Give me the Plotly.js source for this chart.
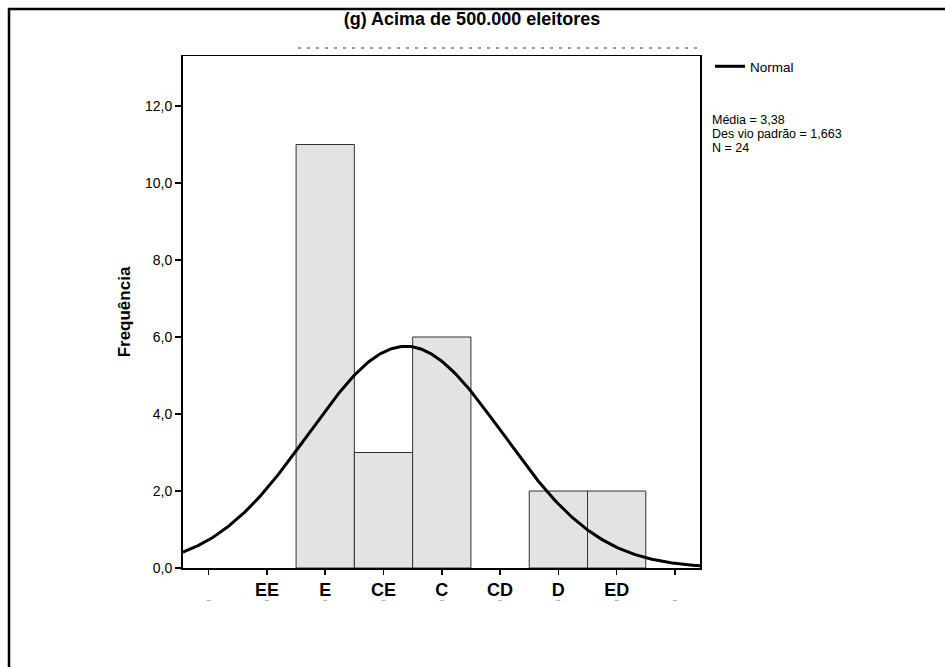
<!DOCTYPE html>
<html>
<head>
<meta charset="utf-8">
<script src="https://cdn.plot.ly/plotly-3.0.1.min.js"></script>
<style>
  html, body { margin: 0; padding: 0; background: #fff; }
  #chart { width: 945px; height: 667px; }
</style>
</head>
<body>
<div id="chart"></div>
<script>
// ---- data ----
const categories = ['EE', 'E', 'CE', 'C', 'CD', 'D', 'ED'];   // positions 1..7
const frequencies = [0, 11, 3, 6, 0, 2, 2];
const tickLabels = ['', 'EE', 'E', 'CE', 'C', 'CD', 'D', 'ED', ''];
const media = 3.38;
const desvioPadrao = 1.663;
const nObs = 24;
const statsLines = ['Média = 3,38', 'Des vio padrão = 1,663', 'N = 24'];

// ---- geometry helpers (plot area in pixels) ----
const W = 945, H = 667;
const L = 183, R = 700, T = 56, B = 568;
const px2x = p => (p - L) / (R - L);
const py2y = p => (B - p) / (B - T);
const xRange = [-0.44, 8.43];

// bars
const barX = [], barY = [];
categories.forEach((c, i) => { if (frequencies[i] > 0) { barX.push(i + 1); barY.push(frequencies[i]); } });

// normal curve from the stated mean, sd and N (bin width 1)
const curveX = [], curveY = [];
const steps = 300;
for (let k = 0; k <= steps; k++) {
  const x = xRange[0] + (xRange[1] - xRange[0]) * k / steps;
  const z = (x - media) / desvioPadrao;
  curveX.push(x);
  curveY.push(nObs * Math.exp(-0.5 * z * z) / (desvioPadrao * Math.sqrt(2 * Math.PI)));
}

const FONT = 'Liberation Sans, Arial, sans-serif';

const traces = [
  {
    type: 'bar', x: barX, y: barY, width: 1,
    marker: { color: '#e3e3e3', line: { color: '#333333', width: 1 } },
    showlegend: false, hoverinfo: 'x+y'
  },
  {
    type: 'scatter', mode: 'lines', x: curveX, y: curveY, name: 'Normal',
    line: { color: '#000000', width: 3 }, showlegend: true
  }
];

const annotations = statsLines.map((t, i) => ({
  text: t, xref: 'paper', yref: 'paper', x: px2x(711), y: py2y(120 + i * 14),
  xanchor: 'left', yanchor: 'middle', showarrow: false, borderpad: 0,
  font: { family: FONT, size: 12.5, color: '#000' }
}));

const shapes = [
  // outer frame (top and left edges)
  { type: 'line', xref: 'paper', yref: 'paper', x0: px2x(8), x1: px2x(960), y0: py2y(9), y1: py2y(9),
    line: { color: '#000', width: 2.5 } },
  { type: 'line', xref: 'paper', yref: 'paper', x0: px2x(9), x1: px2x(9), y0: py2y(8), y1: py2y(680),
    line: { color: '#000', width: 2.5 } },
  // faint clipped subtitle remnant above the plot
  { type: 'line', xref: 'paper', yref: 'paper', x0: px2x(298), x1: px2x(702), y0: py2y(48), y1: py2y(48),
    line: { color: '#7a7a7a', width: 1.5, dash: '3px,6px' } }
];
// faint remnants below the tick labels, one per tick
tickLabels.forEach((t, i) => {
  shapes.push({ type: 'line', xref: 'x', yref: 'paper', x0: i - 0.035, x1: i + 0.035,
    y0: py2y(600.5), y1: py2y(600.5), line: { color: '#b5b5b5', width: 1 } });
});

const layout = {
  width: W, height: H,
  margin: { l: L, r: W - R, t: T, b: H - B, pad: 0 },
  paper_bgcolor: '#fff', plot_bgcolor: '#fff',
  separators: ',.',
  bargap: 0,
  font: { family: FONT, color: '#000' },
  title: {
    text: '(g) Acima de 500.000 eleitores',
    xref: 'container', x: 472 / W, xanchor: 'center',
    yref: 'container', y: 1 - 18.5 / H, yanchor: 'middle',
    font: { family: FONT, size: 18, weight: 'bold', color: '#000' }
  },
  xaxis: {
    range: xRange, autorange: false,
    tickmode: 'array', tickvals: tickLabels.map((t, i) => i), ticktext: tickLabels,
    ticks: 'outside', ticklen: 5, tickwidth: 1.5, tickcolor: '#000',
    tickfont: { family: FONT, size: 18, weight: 'bold', color: '#000' },
    showline: true, linecolor: '#000', linewidth: 1.5, mirror: true,
    showgrid: false, zeroline: false, fixedrange: true
  },
  yaxis: {
    range: [0, (B - T) / ((B - 106) / 12)], autorange: false,
    tickmode: 'linear', tick0: 0, dtick: 2, tickformat: '.1f',
    ticks: 'outside', ticklen: 6, tickwidth: 1.5, tickcolor: '#000',
    tickfont: { family: FONT, size: 14, color: '#000' },
    ticklabelstandoff: 0,
    showline: true, linecolor: '#000', linewidth: 2, mirror: true,
    showgrid: false, zeroline: false, fixedrange: true,
    title: { text: 'Frequência', standoff: 10, font: { family: FONT, size: 17, weight: 'bold', color: '#000' } }
  },
  showlegend: true,
  legend: {
    x: px2x(710), y: py2y(51), xanchor: 'left', yanchor: 'top',
    bgcolor: 'rgba(0,0,0,0)', borderwidth: 0, itemwidth: 30,
    font: { family: FONT, size: 13.5, color: '#000' }
  },
  annotations: annotations,
  shapes: shapes
};

Plotly.newPlot('chart', traces, layout, { displayModeBar: false, staticPlot: true });
</script>
</body>
</html>
